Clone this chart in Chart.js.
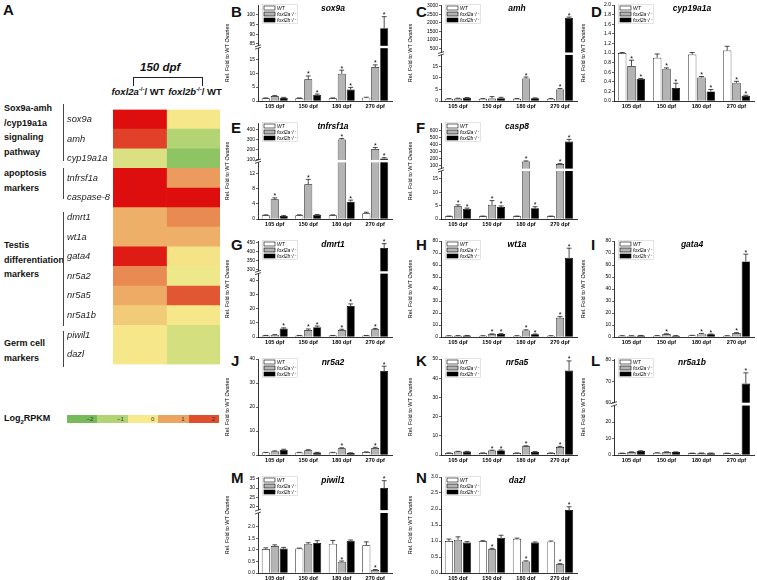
<!DOCTYPE html>
<html>
<head>
<meta charset="utf-8">
<script src="https://cdn.jsdelivr.net/npm/chart.js@4.4.1/dist/chart.umd.min.js"></script>
<style>
  body { margin: 0; width: 757px; height: 580px; overflow: hidden; background: #fff; position: relative;
         font-family: "Liberation Sans", Arial, sans-serif; color: #111; }
  canvas { position: absolute; }
  .t { position: absolute; white-space: nowrap; }
  .letter { position: absolute; font-weight: bold; font-size: 15px; }
  .grp { font-weight: bold; font-size: 9px; line-height: 14.5px; }
  .hdr { font-weight: bold; font-size: 9.5px; text-align: center; }
  .hdr sup { font-size: 6px; }
  .brk { position: absolute; width: 0; border-left: 1px solid #444; }
</style>
</head>
<body>

<div class="letter" style="left:3px;top:1px">A</div>
<div class="t" style="left:140px;top:61px;font:bold italic 11.5px 'Liberation Sans',Arial,sans-serif">150 dpf</div>
<div class="t" style="left:133px;top:77px;width:68px;height:8px;border:1.4px solid #222;border-bottom:none"></div>
<div class="t hdr" style="left:109px;top:86px;width:58px"><i>foxl2a</i><sup>-/-</sup>/ WT</div>
<div class="t hdr" style="left:167px;top:86px;width:56px"><i>foxl2b</i><sup>-/-</sup>/ WT</div>

<div class="t grp" style="left:4px;top:101px">Sox9a-amh<br>/cyp19a1a<br>signaling<br>pathway</div>
<div class="t grp" style="left:4px;top:166px">apoptosis<br>markers</div>
<div class="t grp" style="left:4px;top:238px">Testis<br>differentiation<br>markers</div>
<div class="t grp" style="left:4px;top:336px">Germ cell<br>markers</div>
<div class="brk" style="left:63px;top:104px;height:57px"></div>
<div class="brk" style="left:63px;top:168px;height:31px"></div>
<div class="brk" style="left:63px;top:212px;height:114px"></div>
<div class="brk" style="left:63px;top:331px;height:36px"></div>

<div class="t" style="left:4px;top:413px;font-weight:bold;font-size:9px">Log<sub style="font-size:6px">2</sub>RPKM</div>
<div id="colorbar" class="t" style="left:67px;top:415px;width:152px;height:8px;display:flex"></div>

<script>
// ── Data ──────────────────────────────────────────────────────────────
const dpf = ['105 dpf', '150 dpf', '180 dpf', '270 dpf'];

// A: heatmap, log2 fold (150 dpf)
const genes = ['sox9a', 'amh', 'cyp19a1a', 'tnfrsf1a', 'caspase-8', 'dmrt1', 'wt1a',
               'gata4', 'nr5a2', 'nr5a5', 'nr5a1b', 'piwil1', 'dazl'];
const log2A = [3, 2.2, -0.4, 3, 3, 0.85, 0.85, 2.8, 1.3, 0.9, 0.45, 0.05, 0.05];
const log2B = [0.05, -1.0, -1.6, 1.1, 3, 1.3, 0.85, 0.1, -0.1, 1.9, 0.05, -0.5, -0.5];
const legendSteps = [-2, -1, 0, 1, 2];

// B sox9a
const sox9aWT = [1.0, 1.0, 1.0, 1.2];
const sox9aA = [1.8, 7.8, 9.8, 12.2];
const sox9aB = [1.2, 2.2, 4.1, 93];
const sox9aErr = [[0.1, 0.1, 0.1, 0.15], [0.15, 1.2, 1.3, 0.8], [0.1, 0.3, 0.8, 6]];
const sox9aStar = [[0, 0, 0, 0], [0, 1, 1, 1], [0, 1, 1, 1]];
const sox9aTicks = [0, 5, 10, 15, 85, 90, 95, 100];

// C amh
const amhWT = [1, 1, 1, 1];
const amhA = [1.1, 1.1, 9.8, 5.0];
const amhB = [1.4, 1.2, 1.2, 2300];
const amhErr = [[0.05, 0.1, 0.1, 0.1], [0.1, 0.8, 0.6, 0.4], [0.1, 0.4, 0.15, 40]];
const amhStar = [[0, 0, 0, 0], [0, 0, 1, 1], [0, 0, 0, 1]];
const amhTicks = [0, 5, 10, 15, 500, 1000, 1500, 2000, 2500, 3000];

// D cyp19a1a
const cypWT = [1.0, 0.90, 0.97, 1.05];
const cypA = [0.73, 0.67, 0.49, 0.38];
const cypB = [0.46, 0.27, 0.20, 0.11];
const cypErr = [[0.01, 0.08, 0.04, 0.09], [0.12, 0.02, 0.02, 0.03], [0.01, 0.10, 0.04, 0.01]];
const cypStar = [[0, 0, 0, 0], [1, 1, 1, 1], [1, 1, 1, 1]];
const cypTicks = [0, 0.2, 0.4, 0.6, 0.8, 1.0, 1.2, 1.4, 1.6, 1.8, 2.0];

// E tnfrsf1a
const tnfWT = [1, 1, 1, 1.5];
const tnfA = [5.2, 9.2, 305, 210];
const tnfB = [0.8, 1.1, 4.6, 115];
const tnfErr = [[0.1, 0.1, 0.1, 0.3], [0.4, 1.3, 10, 15], [0.1, 0.1, 0.4, 8]];
const tnfStar = [[0, 0, 0, 0], [1, 1, 1, 1], [0, 0, 1, 1]];
const tnfTicks = [0, 2, 4, 6, 8, 10, 12, 14, 100, 150, 200, 250, 300, 350, 400];

// F casp8
const caspWT = [1, 1, 1, 1];
const caspA = [4.8, 5.3, 160, 125];
const caspB = [3.8, 4.5, 4.0, 440];
const caspErr = [[0.1, 0.1, 0.1, 0.1], [0.5, 1.6, 8, 5], [0.3, 0.4, 0.6, 30]];
const caspStar = [[0, 0, 0, 0], [1, 1, 1, 1], [1, 1, 1, 1]];
const caspTicks = [0, 5, 10, 15, 100, 200, 300, 400, 500, 600];

// G dmrt1
const dmrtWT = [1, 1, 1, 1];
const dmrtA = [1.5, 5, 5, 5.5];
const dmrtB = [6, 7, 22, 420];
const dmrtErr = [[0.1, 0.1, 0.1, 0.1], [0.2, 0.7, 0.5, 0.6], [0.5, 0.8, 1.5, 25]];
const dmrtStar = [[0, 0, 0, 0], [0, 1, 1, 1], [1, 1, 1, 1]];
const dmrtTicks = [0, 10, 20, 30, 40, 300, 350, 400, 450];

// H wt1a
const wt1aWT = [1, 1, 1, 1];
const wt1aA = [1.1, 2.3, 5.5, 16];
const wt1aB = [1.2, 2.5, 2.2, 66];
const wt1aErr = [[0.1, 0.1, 0.1, 0.1], [0.1, 0.3, 0.5, 1], [0.1, 0.3, 0.3, 8]];
const wt1aStar = [[0, 0, 0, 0], [0, 1, 1, 1], [0, 1, 1, 1]];
const wt1aTicks = [0, 10, 20, 30, 40, 50, 60, 70, 80];

// I gata4
const gata4WT = [1, 1.1, 1.3, 1.0];
const gata4A = [1.0, 2.5, 2.8, 3.3];
const gata4B = [1.2, 1.1, 2.2, 63];
const gata4Err = [[0.1, 0.1, 0.1, 0.1], [0.1, 0.2, 0.2, 0.3], [0.1, 0.1, 0.3, 6]];
const gata4Star = [[0, 0, 0, 0], [0, 1, 1, 1], [0, 0, 1, 1]];
const gata4Ticks = [0, 10, 20, 30, 40, 50, 60, 70, 80];

// J nr5a2
const nr5a2WT = [1, 1, 1, 1.2];
const nr5a2A = [1.6, 2.0, 2.8, 2.9];
const nr5a2B = [2.2, 1.0, 0.8, 35];
const nr5a2Err = [[0.1, 0.1, 0.1, 0.1], [0.1, 0.2, 0.2, 0.3], [0.2, 0.1, 0.1, 2]];
const nr5a2Star = [[0, 0, 0, 0], [0, 0, 1, 1], [0, 0, 0, 1]];
const nr5a2Ticks = [0, 10, 20, 30, 40];

// K nr5a5
const nr5a5WT = [1, 1, 1, 1];
const nr5a5A = [1.8, 2.3, 4.5, 4.2];
const nr5a5B = [1.8, 2.4, 1.6, 44];
const nr5a5Err = [[0.1, 0.1, 0.1, 0.1], [0.1, 0.2, 0.3, 0.3], [0.1, 0.2, 0.2, 5]];
const nr5a5Star = [[0, 0, 0, 0], [0, 1, 1, 1], [0, 1, 0, 1]];
const nr5a5Ticks = [0, 10, 20, 30, 40, 50];

// L nr5a1b
const nr5a1bWT = [1, 1.3, 1, 1];
const nr5a1bA = [1.8, 1.8, 1.1, 0.8];
const nr5a1bB = [2.4, 1.8, 1.1, 69];
const nr5a1bErr = [[0.1, 0.1, 0.1, 0.1], [0.1, 0.1, 0.1, 0.1], [0.2, 0.1, 0.1, 5]];
const nr5a1bStar = [[0, 0, 0, 0], [0, 0, 0, 0], [0, 0, 0, 1]];
const nr5a1bTicks = [0, 10, 20, 60, 70, 80];

// M piwil1
const piwiWT = [1.04, 1.06, 1.26, 1.2];
const piwiA = [1.17, 1.26, 0.49, 0.13];
const piwiB = [1.06, 1.30, 1.40, 30];
const piwiErr = [[0.05, 0.02, 0.15, 0.15], [0.05, 0.05, 0.03, 0.02], [0.05, 0.1, 0.03, 4]];
const piwiStar = [[0, 0, 0, 0], [0, 0, 1, 1], [0, 0, 0, 1]];
const piwiTicks = [0, 0.5, 1.0, 1.5, 2.0, 20, 25, 30, 35];

// N dazl
const dazlWT = [1.0, 0.99, 1.07, 0.98];
const dazlA = [1.04, 0.74, 0.36, 0.27];
const dazlB = [0.95, 1.1, 0.95, 1.97];
const dazlErr = [[0.06, 0.02, 0.02, 0.02], [0.09, 0.03, 0.02, 0.02], [0.03, 0.08, 0.02, 0.1]];
const dazlStar = [[0, 0, 0, 0], [0, 1, 1, 1], [0, 0, 0, 1]];
const dazlTicks = [0, 0.5, 1.0, 1.5, 2.0, 2.5, 3.0];

// ── Layout ────────────────────────────────────────────────────────────
const FONT = '"Liberation Sans", Arial, sans-serif';
const colAxis = [258, 441, 614];
const colRight = [392, 577, 754];
const rowZero = [101, 219, 337, 455, 573];
const colLetter = [231, 416, 591];
const rowLetter = [3, 119, 236, 352, 469];
const PLOT_H = 96, AXIS_W = 34, XLAB_H = 11, PAD_T = 4;

const seriesLabels = ['WT', 'foxl2a⁻/⁻', 'foxl2b⁻/⁻'];
const seriesFill = ['#ffffff', '#b4b4b4', '#000000'];

Chart.defaults.font.family = FONT;
Chart.defaults.color = '#000';

// ── Heat colours ──────────────────────────────────────────────────────
const heatStops = [[-2, [118, 186, 90]], [-1, [178, 212, 116]], [0, [246, 234, 140]],
                   [1, [236, 164, 98]], [2, [224, 78, 46]], [3, [222, 14, 14]]];
function colorFor(v) {
  const rgb = c => `rgb(${c.map(Math.round).join(',')})`;
  if (v <= heatStops[0][0]) return rgb(heatStops[0][1]);
  for (let i = 1; i < heatStops.length; i++) {
    const [v0, c0] = heatStops[i - 1], [v1, c1] = heatStops[i];
    if (v <= v1) {
      const t = (v - v0) / (v1 - v0);
      return rgb(c0.map((c, k) => c + (c1[k] - c) * t));
    }
  }
  return rgb(heatStops[heatStops.length - 1][1]);
}

// ── Broken y axis ─────────────────────────────────────────────────────
class BrokenScale extends Chart.LinearScale {
  getPixelForValue(v) {
    const b = this.options.brk;
    if (!b) return super.getPixelForValue(v);
    let d;
    if (v <= b.lowMax) d = (v - this.min) / (b.lowMax - this.min) * b.frac;
    else if (v < b.highMin) d = b.frac + b.gap / 2;
    else d = b.frac + b.gap + (v - b.highMin) / (this.max - b.highMin) * (1 - b.frac - b.gap);
    return this.getPixelForDecimal(d);
  }
}
BrokenScale.id = 'broken';
BrokenScale.defaults = {};
Chart.register(BrokenScale);

// ── Decorations: break, error bars, stars, legend, title ──────────────
const panelDecor = {
  id: 'panelDecor',
  afterDatasetsDraw(chart, args, opts) {
    const ctx = chart.ctx, ca = chart.chartArea, ys = chart.scales.y;
    ctx.save();
    const b = ys.options.brk;
    if (b) {
      const y1 = ys.getPixelForDecimal(b.frac), y2 = ys.getPixelForDecimal(b.frac + b.gap);
      ctx.fillStyle = '#fff';
      ctx.fillRect(ca.left - 1, y2, ca.right - ca.left + 1, y1 - y2);
      ctx.strokeStyle = '#000';
      ctx.lineWidth = 0.7;
      [y1, y2].forEach(y => {
        ctx.beginPath();
        ctx.moveTo(ca.left - 3, y + 1);
        ctx.lineTo(ca.left + 3, y - 1);
        ctx.stroke();
      });
    }
    // error bars + stars
    ctx.strokeStyle = '#000';
    ctx.fillStyle = '#000';
    ctx.lineWidth = 0.7;
    ctx.font = `7px ${FONT}`;
    ctx.textAlign = 'center';
    ctx.textBaseline = 'alphabetic';
    chart.data.datasets.forEach((ds, di) => {
      chart.getDatasetMeta(di).data.forEach((bar, i) => {
        const v = ds.data[i], e = ds.errors[i];
        const yv = ys.getPixelForValue(v), ye = ys.getPixelForValue(v + e);
        const cw = bar.width * 0.3;
        ctx.beginPath();
        ctx.moveTo(bar.x, yv);
        ctx.lineTo(bar.x, ye);
        ctx.moveTo(bar.x - cw, ye);
        ctx.lineTo(bar.x + cw, ye);
        ctx.stroke();
        if (ds.stars[i]) ctx.fillText('*', bar.x, ye + 0.5);
      });
    });
    // legend
    const lx = ca.left + 6, ly = ca.top + 1;
    ctx.strokeStyle = '#c8c8c8';
    ctx.lineWidth = 0.5;
    ctx.strokeRect(lx - 1.5, ly - 1.5, 35, 19);
    ctx.font = `italic 5px ${FONT}`;
    ctx.textAlign = 'left';
    ctx.textBaseline = 'middle';
    seriesLabels.forEach((lab, i) => {
      const y = ly + i * 6;
      ctx.fillStyle = seriesFill[i];
      ctx.fillRect(lx, y, 11, 4);
      ctx.strokeStyle = '#000';
      ctx.lineWidth = 0.6;
      ctx.strokeRect(lx, y, 11, 4);
      ctx.fillStyle = '#000';
      ctx.fillText(lab, lx + 13, y + 2.2);
    });
    // title
    ctx.font = `bold italic 8.5px ${FONT}`;
    ctx.textAlign = 'center';
    ctx.fillText(opts.title, (ca.left + ca.right) / 2 + 8, ca.top + 4);
    ctx.restore();
  }
};

function makeCanvas(left, top, w, h) {
  const c = document.createElement('canvas');
  c.width = w; c.height = h;
  c.style.left = left + 'px';
  c.style.top = top + 'px';
  c.style.width = w + 'px';
  c.style.height = h + 'px';
  document.body.appendChild(c);
  return c;
}

function addLetter(txt, col, row) {
  const d = document.createElement('div');
  d.className = 'letter';
  d.textContent = txt;
  d.style.left = colLetter[col] + 'px';
  d.style.top = rowLetter[row] + 'px';
  document.body.appendChild(d);
}

const fmtInt = v => String(v);
const fmtDec = v => v.toFixed(1);

function barPanel(letter, col, row, title, means, errs, stars, y) {
  addLetter(letter, col, row);
  const left = colAxis[col] - AXIS_W, top = rowZero[row] - PLOT_H - PAD_T;
  const w = colRight[col] - left + 2, h = PLOT_H + PAD_T + XLAB_H;
  const canvas = makeCanvas(left, top, w, h);
  return new Chart(canvas, {
    type: 'bar',
    data: {
      labels: dpf,
      datasets: means.map((m, i) => ({
        label: seriesLabels[i], data: m, errors: errs[i], stars: stars[i],
        backgroundColor: seriesFill[i], borderColor: '#000', borderWidth: 0.7,
        categoryPercentage: 0.8, barPercentage: 0.9
      }))
    },
    options: {
      responsive: false, animation: false, devicePixelRatio: 1,
      layout: { padding: { top: PAD_T, right: 2, left: 0, bottom: 0 } },
      plugins: { legend: { display: false }, tooltip: { enabled: false }, panelDecor: { title } },
      scales: {
        x: {
          grid: { display: false, tickLength: 1 },
          border: { display: true, color: '#000', width: 0.8 },
          ticks: { font: { size: 5.5, weight: 'bold' }, padding: 1, maxRotation: 0, autoSkip: false },
          afterFit: s => { s.height = XLAB_H; }
        },
        y: {
          type: y.brk ? 'broken' : 'linear',
          min: y.min, max: y.max, bounds: 'data', brk: y.brk,
          afterBuildTicks: s => { s.ticks = y.ticks.map(v => ({ value: v })); },
          afterFit: s => { s.width = AXIS_W; },
          grid: { display: true, drawOnChartArea: false, drawTicks: true, tickLength: 2, color: '#000', lineWidth: 0.6 },
          border: { display: true, color: '#000', width: 0.8 },
          ticks: { font: { size: 5 }, padding: 1, callback: y.fmt || fmtInt },
          title: { display: true, text: 'Rel. Fold to WT Ovaries', font: { size: 5.5 }, padding: 0 }
        }
      }
    },
    plugins: [panelDecor]
  });
}

// ── Heatmap (A) ───────────────────────────────────────────────────────
const heatCanvas = makeCanvas(67, 104, 153, 266);
new Chart(heatCanvas, {
  type: 'bar',
  data: {
    labels: genes,
    datasets: [
      { label: 'foxl2a-/-/WT', data: genes.map(() => 1), backgroundColor: log2A.map(colorFor) },
      { label: 'foxl2b-/-/WT', data: genes.map(() => 1), backgroundColor: log2B.map(colorFor) }
    ]
  },
  options: {
    indexAxis: 'y', responsive: false, animation: false, devicePixelRatio: 1,
    layout: { padding: 0 },
    datasets: { bar: { barPercentage: 1, categoryPercentage: 1, borderWidth: 0 } },
    plugins: { legend: { display: false }, tooltip: { enabled: false } },
    scales: {
      x: { stacked: true, display: false, min: 0, max: 2 },
      y: {
        stacked: true,
        grid: { display: false, drawTicks: false },
        border: { display: false },
        afterFit: s => { s.width = 46; },
        ticks: { crossAlign: 'far', autoSkip: false, padding: 0, color: '#222',
                 font: { size: 9.3, style: 'italic' } }
      }
    }
  }
});

// colour key
const bar = document.getElementById('colorbar');
legendSteps.forEach(s => {
  const seg = document.createElement('div');
  seg.style.cssText = `flex:1;background:${colorFor(s)};font-size:6px;line-height:8px;text-align:right;padding-right:4px;color:#333`;
  seg.textContent = s < 0 ? '−' + Math.abs(s) : String(s);
  bar.appendChild(seg);
});

// ── Bar panels ────────────────────────────────────────────────────────
barPanel('B', 0, 0, 'sox9a', [sox9aWT, sox9aA, sox9aB], sox9aErr, sox9aStar,
  { min: 0, max: 105, ticks: sox9aTicks, brk: { lowMax: 19, frac: 0.55, gap: 0.025, highMin: 84 } });
barPanel('C', 1, 0, 'amh', [amhWT, amhA, amhB], amhErr, amhStar,
  { min: 0, max: 3050, ticks: amhTicks, brk: { lowMax: 20, frac: 0.48, gap: 0.025, highMin: 250 } });
barPanel('D', 2, 0, 'cyp19a1a', [cypWT, cypA, cypB], cypErr, cypStar,
  { min: 0, max: 2.0, ticks: cypTicks, fmt: fmtDec });
barPanel('E', 0, 1, 'tnfrsf1a', [tnfWT, tnfA, tnfB], tnfErr, tnfStar,
  { min: 0, max: 470, ticks: tnfTicks, brk: { lowMax: 15, frac: 0.59, gap: 0.025, highMin: 100 } });
barPanel('F', 1, 1, 'casp8', [caspWT, caspA, caspB], caspErr, caspStar,
  { min: 0, max: 700, ticks: caspTicks, brk: { lowMax: 18, frac: 0.5, gap: 0.025, highMin: 60 } });
barPanel('G', 0, 2, 'dmrt1', [dmrtWT, dmrtA, dmrtB], dmrtErr, dmrtStar,
  { min: 0, max: 460, ticks: dmrtTicks, brk: { lowMax: 45, frac: 0.66, gap: 0.025, highMin: 290 } });
barPanel('H', 1, 2, 'wt1a', [wt1aWT, wt1aA, wt1aB], wt1aErr, wt1aStar,
  { min: 0, max: 80, ticks: wt1aTicks });
barPanel('I', 2, 2, 'gata4', [gata4WT, gata4A, gata4B], gata4Err, gata4Star,
  { min: 0, max: 80, ticks: gata4Ticks });
barPanel('J', 0, 3, 'nr5a2', [nr5a2WT, nr5a2A, nr5a2B], nr5a2Err, nr5a2Star,
  { min: 0, max: 40, ticks: nr5a2Ticks });
barPanel('K', 1, 3, 'nr5a5', [nr5a5WT, nr5a5A, nr5a5B], nr5a5Err, nr5a5Star,
  { min: 0, max: 50, ticks: nr5a5Ticks });
barPanel('L', 2, 3, 'nr5a1b', [nr5a1bWT, nr5a1bA, nr5a1bB], nr5a1bErr, nr5a1bStar,
  { min: 0, max: 80.5, ticks: nr5a1bTicks, brk: { lowMax: 30, frac: 0.515, gap: 0.03, highMin: 60 } });
barPanel('M', 0, 4, 'piwil1', [piwiWT, piwiA, piwiB], piwiErr, piwiStar,
  { min: 0, max: 36, ticks: piwiTicks, fmt: v => v < 5 ? v.toFixed(1) : String(v),
    brk: { lowMax: 2.6, frac: 0.625, gap: 0.03, highMin: 18 } });
barPanel('N', 1, 4, 'dazl', [dazlWT, dazlA, dazlB], dazlErr, dazlStar,
  { min: 0, max: 3.0, ticks: dazlTicks, fmt: fmtDec });
</script>
</body>
</html>
